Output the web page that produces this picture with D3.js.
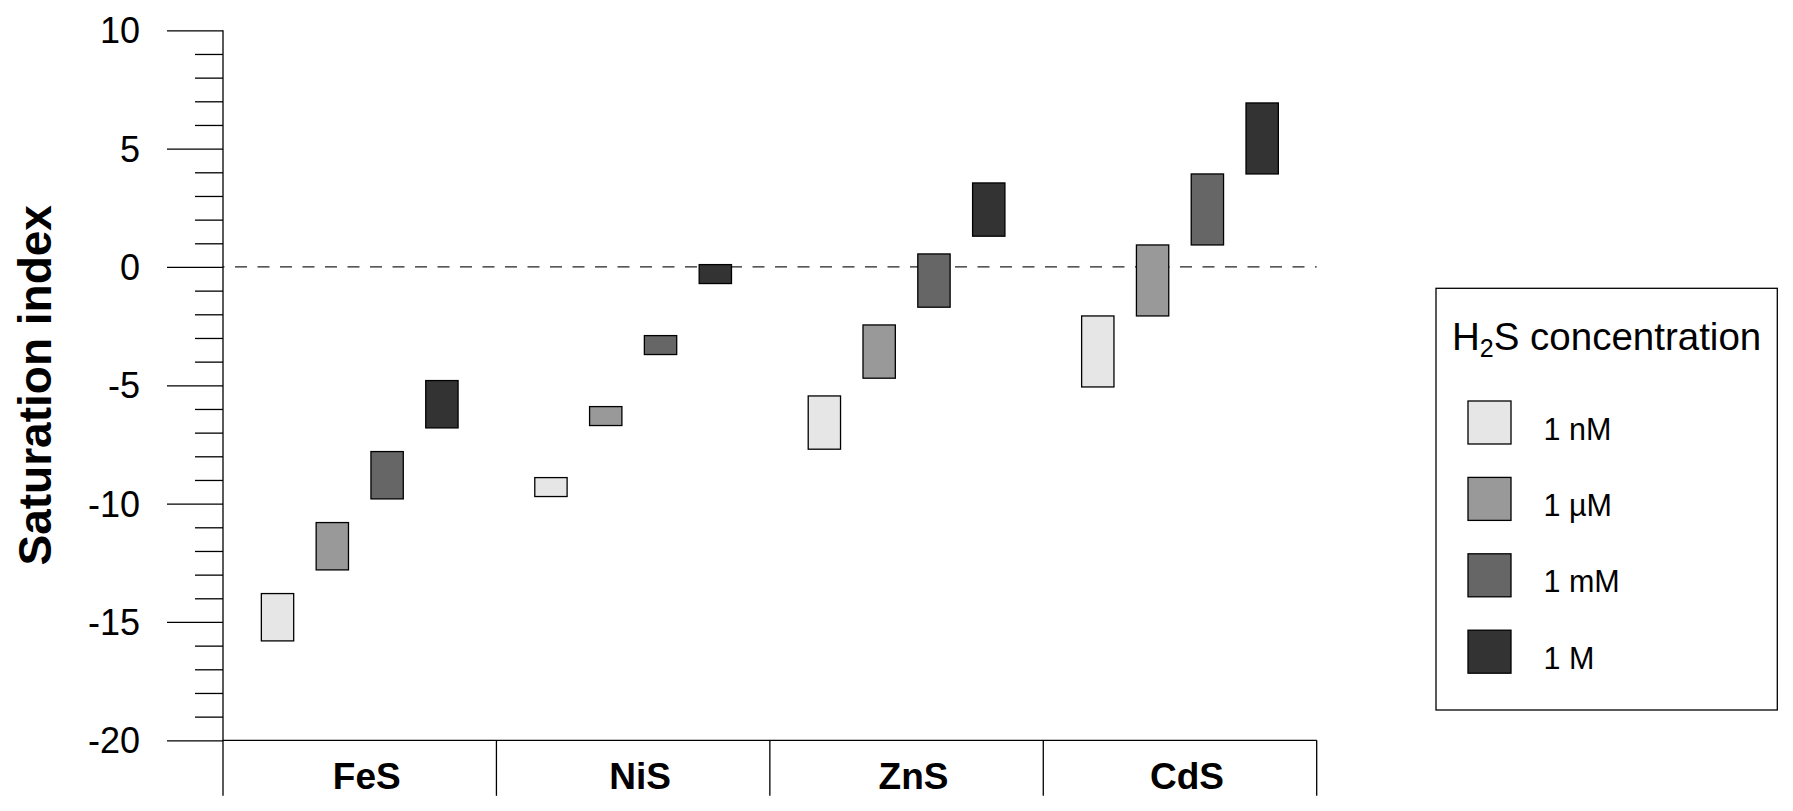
<!DOCTYPE html>
<html>
<head>
<meta charset="utf-8">
<script src="https://cdn.jsdelivr.net/npm/d3@7"></script>
<style>
  html, body { margin: 0; padding: 0; background: #fff; }
  svg { display: block; }
  text { font-family: "Liberation Sans", Arial, sans-serif; fill: #000; }
</style>
</head>
<body>
<svg id="chart" width="1793" height="811"></svg>
<script>
// ---- data ----
const minerals = ["FeS", "NiS", "ZnS", "CdS"];
const concentrations = ["1 nM", "1 µM", "1 mM", "1 M"];
const fills = ["#e6e6e6", "#999999", "#666666", "#333333"];

// saturation-index ranges (low / high) per H2S concentration, ordered like minerals
const low1nM  = [-15.8, -9.7, -7.7, -5.07];
const high1nM = [-13.8, -8.9, -5.45, -2.07];
const low1uM  = [-12.8, -6.7, -4.7, -2.07];
const high1uM = [-10.8, -5.9, -2.45, 0.93];
const low1mM  = [-9.8, -3.7, -1.7, 0.93];
const high1mM = [-7.8, -2.9, 0.55, 3.93];
const low1M   = [-6.8, -0.7, 1.3, 3.93];
const high1M  = [-4.8, 0.1, 3.55, 6.93];

const majorTicks = [-20, -15, -10, -5, 0, 5, 10];
const minorTicks = d3.range(-20, 11, 1).filter(v => v % 5 !== 0);

const lows = [low1nM, low1uM, low1mM, low1M];
const highs = [high1nM, high1uM, high1mM, high1M];

// ---- layout ----
const plotLeft = 223, plotRight = 1316.7, plotTop = 30.3, plotBottom = 740.3;
const svg = d3.select("#chart");

const y = d3.scaleLinear().domain([-20, 10]).range([plotBottom, plotTop]);
const x = d3.scaleBand().domain(minerals).range([plotLeft, plotRight]).padding(0);
const xs = d3.scaleBand().domain(concentrations).range([0, x.bandwidth()])
  .paddingInner(0.41).paddingOuter(0.7);

// zero line (dashed)
svg.append("line")
  .attr("x1", plotLeft).attr("x2", plotRight)
  .attr("y1", y(0)).attr("y2", y(0))
  .attr("stroke", "#222").attr("stroke-width", 1.3)
  .attr("stroke-dasharray", "12,10.5").attr("stroke-dashoffset", -12);

// bars
const rows = [];
concentrations.forEach((c, si) => {
  minerals.forEach((m, mi) => {
    rows.push({ mineral: m, conc: c, si, lo: lows[si][mi], hi: highs[si][mi] });
  });
});
svg.append("g").selectAll("rect").data(rows).join("rect")
  .attr("x", d => x(d.mineral) + xs(d.conc))
  .attr("width", xs.bandwidth())
  .attr("y", d => y(d.hi))
  .attr("height", d => y(d.lo) - y(d.hi))
  .attr("fill", d => fills[d.si])
  .attr("stroke", "#000").attr("stroke-width", 1.3);

// y axis: minor ticks
const minorAxis = d3.axisLeft(y).tickValues(minorTicks).tickSize(28).tickFormat("").tickSizeOuter(0);
const gMinor = svg.append("g").attr("transform", `translate(${plotLeft},0)`).call(minorAxis);
gMinor.select(".domain").remove();
gMinor.selectAll("line").attr("stroke", "#000").attr("stroke-width", 1.3);

// y axis: major ticks + labels (plain hyphen-minus, as in the original)
const majorAxis = d3.axisLeft(y).tickValues(majorTicks).tickSize(56).tickPadding(27).tickSizeOuter(0)
  .tickFormat(d => String(d));
const gMajor = svg.append("g").attr("transform", `translate(${plotLeft},0)`).call(majorAxis);
gMajor.select(".domain").remove();
gMajor.selectAll("line").attr("stroke", "#000").attr("stroke-width", 1.3);
gMajor.selectAll("text")
  .attr("font-family", "'Liberation Sans', Arial, sans-serif")
  .attr("font-size", 36).attr("fill", "#000").attr("dy", "0.345em");

const labelZone = 55.5;
// y axis line (extends into the category label zone)
svg.append("line")
  .attr("x1", plotLeft).attr("x2", plotLeft)
  .attr("y1", y(10)).attr("y2", y(-20) + labelZone)
  .attr("stroke", "#000").attr("stroke-width", 1.3);

// x axis line
svg.append("line")
  .attr("x1", plotLeft).attr("x2", plotRight)
  .attr("y1", y(-20)).attr("y2", y(-20))
  .attr("stroke", "#000").attr("stroke-width", 1.3);

// category dividers
const dividers = minerals.map(m => x(m) + x.bandwidth());
svg.append("g").selectAll("line").data(dividers).join("line")
  .attr("x1", d => d).attr("x2", d => d)
  .attr("y1", y(-20)).attr("y2", y(-20) + labelZone)
  .attr("stroke", "#000").attr("stroke-width", 1.3);

// category labels
svg.append("g").selectAll("text").data(minerals).join("text")
  .attr("x", d => x(d) + x.bandwidth() / 2 + 7)
  .attr("y", y(-20) + 48.7)
  .attr("text-anchor", "middle")
  .attr("font-weight", "bold").attr("font-size", 37)
  .text(d => d);

// y title
svg.append("text")
  .attr("transform", `translate(51,${(y(10) + y(-20)) / 2}) rotate(-90)`)
  .attr("text-anchor", "middle")
  .attr("font-weight", "bold").attr("font-size", 46)
  .text("Saturation index");

// legend
const lg = svg.append("g");
lg.append("rect")
  .attr("x", 1436).attr("y", 288.3).attr("width", 341.3).attr("height", 421.7)
  .attr("fill", "#fff").attr("stroke", "#000").attr("stroke-width", 1.3);
const lt = lg.append("text").attr("x", 1452).attr("y", 350).attr("font-size", 38.5);
lt.append("tspan").text("H");
lt.append("tspan").attr("font-size", 25).attr("dy", 7).text("2");
lt.append("tspan").attr("dy", -7).text("S concentration");

const legStep = 76.4;
const li = lg.selectAll("g.item").data(concentrations).join("g").attr("class", "item")
  .attr("transform", (d, i) => `translate(0,${i * legStep})`);
li.append("rect")
  .attr("x", 1468).attr("y", 401).attr("width", 43).attr("height", 43)
  .attr("fill", (d, i) => fills[i]).attr("stroke", "#000").attr("stroke-width", 1.3);
li.append("text")
  .attr("x", 1543.5).attr("y", 439.5)
  .attr("font-size", 30.5)
  .text(d => d);
</script>
</body>
</html>
